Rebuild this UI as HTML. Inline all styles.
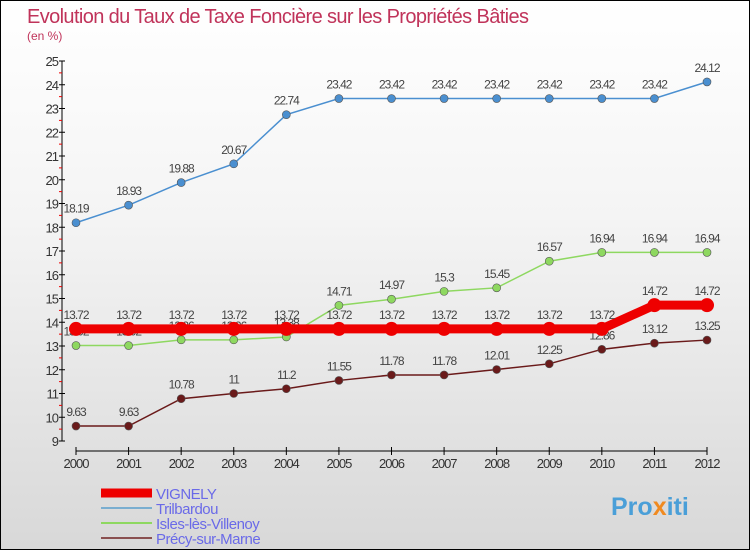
<!DOCTYPE html>
<html><head><meta charset="utf-8"><style>
body{margin:0}
#c{width:748px;height:548px;border:1px solid #000;background:linear-gradient(#fff,#f4f4f4 40%,#d8d8d8);position:relative;overflow:hidden;font-family:"Liberation Sans",sans-serif}
</style></head><body>
<div id="c">
<svg id="s" width="748" height="548" xmlns="http://www.w3.org/2000/svg">
<text x="26" y="22" font-size="20" fill="#c0335a" textLength="502">Evolution du Taux de Taxe Foncière sur les Propriétés Bâties</text>
<text x="26" y="39" font-size="12" fill="#c0335a">(en %)</text>
<g id="ax"></g><g id="ser"></g><g id="leg"></g>
<text x="610" y="514" font-size="25" font-weight="bold" fill="#4a9fd8">Pro<tspan fill="#f08a20">x</tspan>iti</text>
</svg></div>
<script>
const years=[2000,2001,2002,2003,2004,2005,2006,2007,2008,2009,2010,2011,2012];
const yTicks=[9,10,11,12,13,14,15,16,17,18,19,20,21,22,23,24,25];
const vignely=[13.72,13.72,13.72,13.72,13.72,13.72,13.72,13.72,13.72,13.72,13.72,14.72,14.72];
const trilbardou=[18.19,18.93,19.88,20.67,22.74,23.42,23.42,23.42,23.42,23.42,23.42,23.42,24.12];
const isles=[13.02,13.02,13.26,13.26,13.38,14.71,14.97,15.3,15.45,16.57,16.94,16.94,16.94];
const precy=[9.63,9.63,10.78,11,11.2,11.55,11.78,11.78,12.01,12.25,12.86,13.12,13.25];
const NS='http://www.w3.org/2000/svg';
const X=i=>75+i*(631/12), Y=v=>440-(v-9)*23.75;
function mk(p,t,a){const e=document.createElementNS(NS,t);for(const k in a)e.setAttribute(k,a[k]);p.appendChild(e);return e;}
const ax=document.getElementById('ax');
let e=mk(ax,'line',{x1:61,y1:60,x2:61,y2:440,stroke:'#000'});

e=mk(ax,'line',{x1:75,y1:450,x2:706,y2:450,stroke:'#000'});

yTicks.forEach(v=>{mk(ax,'line',{x1:58,x2:64,y1:Y(v),y2:Y(v),stroke:'#000'});
 if(v<25)mk(ax,'line',{x1:58,x2:61,y1:Y(v+0.5),y2:Y(v+0.5),stroke:'#e00'});
 const t=mk(ax,'text',{x:57,y:Y(v)+5,'font-size':13,'text-anchor':'end',fill:'#333','letter-spacing':'-1'});t.textContent=v;
 });
years.forEach((y,i)=>{mk(ax,'line',{x1:X(i),x2:X(i),y1:446,y2:454,stroke:'#000'});
 const t=mk(ax,'text',{x:X(i),y:467,'font-size':13,'text-anchor':'middle',fill:'#333','letter-spacing':'-1'});t.textContent=y;
 });
const ser=document.getElementById('ser');
const series=[
 {n:'Précy-sur-Marne',d:precy,c:'#6a1a1a',w:1.5,r:4},
 {n:'Isles-lès-Villenoy',d:isles,c:'#8ed860',w:1.5,r:4},
 {n:'Trilbardou',d:trilbardou,c:'#4a8fd0',w:1.5,r:4},
 {n:'VIGNELY',d:vignely,c:'#ee0000',w:9,r:7}];
series.forEach(s=>{
 const g=mk(ser,'g',{});
 
 const l=mk(g,'polyline',{points:s.d.map((v,i)=>X(i)+','+Y(v)).join(' '),fill:'none',stroke:s.c,'stroke-width':s.w});
 
 s.d.forEach((v,i)=>{const p=mk(g,'circle',{cx:X(i),cy:Y(v),r:s.r,fill:s.c,stroke:s.w>2?'none':'#555','stroke-width':0.6});
  
  const t=mk(g,'text',{x:X(i),y:Y(v)-10,'font-size':12,'text-anchor':'middle',fill:'#444','letter-spacing':'-1'});t.textContent=v;
  });
});
const leg=document.getElementById('leg');
const L=[['VIGNELY','#ee0000',9],['Trilbardou','#7aaed0',2],['Isles-lès-Villenoy','#8ed860',2],['Précy-sur-Marne','#8a5050',2]];
L.forEach((o,i)=>{const y=492+i*15;
 const g=mk(leg,'g',{});
 mk(g,'line',{x1:100,x2:151,y1:y,y2:y,stroke:o[1],'stroke-width':o[2]});
 const t=mk(g,'text',{x:155,y:y+6,'font-size':15,fill:'#6a6ae8','letter-spacing':'-0.5'});t.textContent=o[0];});
</script></body></html>
